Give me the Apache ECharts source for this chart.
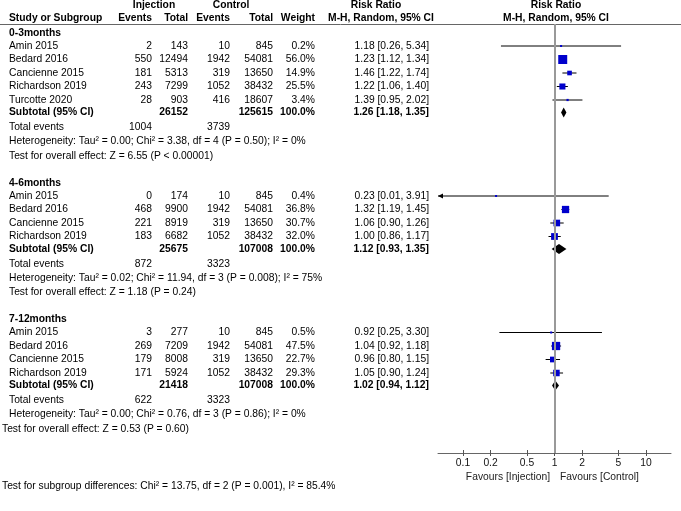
<!DOCTYPE html>
<html>
<head>
<meta charset="utf-8">
<title>Forest plot</title>
<script src="https://cdn.jsdelivr.net/npm/echarts@6/dist/echarts.min.js"></script>
<style>
  html, body { margin: 0; padding: 0; background: #fff; }
  #chart { width: 681px; height: 511px; }
</style>
</head>
<body>
<div id="chart"></div>
<script>
// data
const groupNames = ['0-3months', '4-6months', '7-12months']
const studyNames = [
  ['Amin 2015', 'Bedard 2016', 'Cancienne 2015', 'Richardson 2019', 'Turcotte 2020'],
  ['Amin 2015', 'Bedard 2016', 'Cancienne 2015', 'Richardson 2019'],
  ['Amin 2015', 'Bedard 2016', 'Cancienne 2015', 'Richardson 2019']
]
const injEvents = [[2, 550, 181, 243, 28], [0, 468, 221, 183], [3, 269, 179, 171]]
const injTotal = [[143, 12494, 5313, 7299, 903], [174, 9900, 8919, 6682], [277, 7209, 8008, 5924]]
const ctlEvents = [[10, 1942, 319, 1052, 416], [10, 1942, 319, 1052], [10, 1942, 319, 1052]]
const ctlTotal = [[845, 54081, 13650, 38432, 18607], [845, 54081, 13650, 38432], [845, 54081, 13650, 38432]]
const weights = [[0.2, 56.0, 14.9, 25.5, 3.4], [0.4, 36.8, 30.7, 32.0], [0.5, 47.5, 22.7, 29.3]]
const rr = [[1.18, 1.23, 1.46, 1.22, 1.39], [0.23, 1.32, 1.06, 1.00], [0.92, 1.04, 0.96, 1.05]]
const rrLow = [[0.26, 1.12, 1.22, 1.06, 0.95], [0.01, 1.19, 0.90, 0.86], [0.25, 0.92, 0.80, 0.90]]
const rrHigh = [[5.34, 1.34, 1.74, 1.40, 2.02], [3.91, 1.45, 1.26, 1.17], [3.30, 1.18, 1.15, 1.24]]
const subInjTotal = [26152, 25675, 21418]
const subCtlTotal = [125615, 107008, 107008]
const subRR = [1.26, 1.12, 1.02]
const subLow = [1.18, 0.93, 0.94]
const subHigh = [1.35, 1.35, 1.12]
const totalInjEvents = [1004, 872, 622]
const totalCtlEvents = [3739, 3323, 3323]
const heterogeneity = [
  'Heterogeneity: Tau² = 0.00; Chi² = 3.38, df = 4 (P = 0.50); I² = 0%',
  'Heterogeneity: Tau² = 0.02; Chi² = 11.94, df = 3 (P = 0.008); I² = 75%',
  'Heterogeneity: Tau² = 0.00; Chi² = 0.76, df = 3 (P = 0.86); I² = 0%'
]
const effectTests = [
  'Test for overall effect: Z = 6.55 (P < 0.00001)',
  'Test for overall effect: Z = 1.18 (P = 0.24)',
  null
]
const overallTest = 'Test for overall effect: Z = 0.53 (P = 0.60)'
const subgroupTest = 'Test for subgroup differences: Chi² = 13.75, df = 2 (P = 0.001), I² = 85.4%'
const tickValues = [0.1, 0.2, 0.5, 1, 2, 5, 10]

// layout
const FONT = '"Liberation Sans", Arial, sans-serif'
const FONT_SIZE = 10.3
const COL = { name: 9, injE: 152, injT: 188, ctlE: 230, ctlT: 273, weight: 315, ci: 429 }
const HEADER_LINE = 24
const AXIS_Y = 453
const LOG_MIN = -1.273
const LOG_MAX = 1.273

const fmtCI = (m, lo, hi) => `${m.toFixed(2)} [${lo.toFixed(2)}, ${hi.toFixed(2)}]`

const cells = []
const marks = []
const cell = (x, y, text, align, bold, color) => cells.push({ x, y, text: String(text), align: align || 'right', bold: !!bold, color })

// header
cell(154, 5, 'Injection', 'center', true)
cell(231, 5, 'Control', 'center', true)
cell(376, 5, 'Risk Ratio', 'center', true)
cell(556, 5, 'Risk Ratio', 'center', true)
cell(COL.name, 18, 'Study or Subgroup', 'left', true)
cell(COL.injE, 18, 'Events', 'right', true)
cell(COL.injT, 18, 'Total', 'right', true)
cell(COL.ctlE, 18, 'Events', 'right', true)
cell(COL.ctlT, 18, 'Total', 'right', true)
cell(COL.weight, 18, 'Weight', 'right', true)
cell(381, 18, 'M-H, Random, 95% CI', 'center', true)
cell(556, 18, 'M-H, Random, 95% CI', 'center', true)

let y = 33
groupNames.forEach((g, gi) => {
  cell(COL.name, y, g, 'left', true)
  y += 13
  studyNames[gi].forEach((name, i) => {
    cell(COL.name, y, name, 'left')
    cell(COL.injE, y, injEvents[gi][i])
    cell(COL.injT, y, injTotal[gi][i])
    cell(COL.ctlE, y, ctlEvents[gi][i])
    cell(COL.ctlT, y, ctlTotal[gi][i])
    cell(COL.weight, y, weights[gi][i].toFixed(1) + '%')
    cell(COL.ci, y, fmtCI(rr[gi][i], rrLow[gi][i], rrHigh[gi][i]))
    marks.push([Math.log10(rr[gi][i]), Math.log10(rrLow[gi][i]), Math.log10(rrHigh[gi][i]), y, weights[gi][i], 0])
    y += 13.5
  })
  y -= 1
  cell(COL.name, y, 'Subtotal (95% CI)', 'left', true)
  cell(COL.injT, y, subInjTotal[gi], 'right', true)
  cell(COL.ctlT, y, subCtlTotal[gi], 'right', true)
  cell(COL.weight, y, '100.0%', 'right', true)
  cell(COL.ci, y, fmtCI(subRR[gi], subLow[gi], subHigh[gi]), 'right', true)
  marks.push([Math.log10(subRR[gi]), Math.log10(subLow[gi]), Math.log10(subHigh[gi]), y, 100, 1])
  y += 15
  cell(COL.name, y, 'Total events', 'left')
  cell(COL.injE, y, totalInjEvents[gi])
  cell(COL.ctlE, y, totalCtlEvents[gi])
  y += 14
  cell(COL.name, y, heterogeneity[gi], 'left')
  if (effectTests[gi]) {
    y += 14.5
    cell(COL.name, y, effectTests[gi], 'left')
    y += 27
  }
})
cell(2, y + 15, overallTest, 'left')
cell(2, 486, subgroupTest, 'left')
cell(550, 477, 'Favours [Injection]', 'right', false, '#222')
cell(560, 477, 'Favours [Control]', 'left', false, '#222')

function renderCell(params, api) {
  const c = cells[params.dataIndex]
  const p = api.coord([c.x, c.y])
  return {
    type: 'text',
    x: p[0],
    y: p[1],
    style: {
      text: c.text,
      textAlign: c.align,
      textVerticalAlign: 'middle',
      font: (c.bold ? 'bold ' : '') + FONT_SIZE + 'px ' + FONT,
      fill: c.color || '#000'
    }
  }
}

function renderMark(params, api) {
  const cs = params.coordSys
  const yv = api.value(3)
  const mid = api.coord([api.value(0), yv])
  const lo = api.coord([api.value(1), yv])
  const hi = api.coord([api.value(2), yv])
  const cy = mid[1]
  if (api.value(5) === 1) {
    return {
      type: 'polygon',
      shape: { points: [[lo[0], cy], [mid[0], cy - 5], [hi[0], cy], [mid[0], cy + 5]] },
      style: { fill: '#000' }
    }
  }
  const x0 = Math.max(lo[0], cs.x)
  const x1 = Math.min(hi[0], cs.x + cs.width)
  const children = [{
    type: 'line',
    shape: { x1: x0, y1: cy, x2: x1, y2: cy },
    style: { stroke: '#000', lineWidth: 1 }
  }]
  if (lo[0] < cs.x) {
    children.push({
      type: 'polygon',
      shape: { points: [[cs.x, cy], [cs.x + 5, cy - 2.5], [cs.x + 5, cy + 2.5]] },
      style: { fill: '#000' }
    })
  }
  const s = Math.max(2, 1.2 * Math.sqrt(api.value(4)))
  children.push({
    type: 'rect',
    shape: { x: mid[0] - s / 2, y: cy - s / 2, width: s, height: s },
    style: { fill: '#0000cc' }
  })
  return { type: 'group', children }
}

const tickLogs = tickValues.map(v => Math.log10(v))
const tickLabel = v => {
  const t = tickValues.find(t => Math.abs(Math.log10(t) - v) < 1e-6)
  return t === undefined ? '' : String(t)
}

const chart = echarts.init(document.getElementById('chart'), null, { renderer: 'canvas' })
chart.setOption({
  animation: false,
  backgroundColor: '#fff',
  grid: [
    { left: 0, right: 0, top: 0, bottom: 0 },
    { left: 438, right: 10, top: HEADER_LINE, bottom: 511 - AXIS_Y }
  ],
  xAxis: [
    { type: 'value', gridIndex: 0, min: 0, max: 681, show: false },
    {
      type: 'value',
      gridIndex: 1,
      min: LOG_MIN,
      max: LOG_MAX,
      position: 'bottom',
      axisLine: { lineStyle: { color: '#666', width: 1 } },
      axisTick: { customValues: tickLogs, length: 3, lineStyle: { color: '#555' } },
      axisLabel: { customValues: tickLogs, formatter: tickLabel, margin: 5, fontSize: FONT_SIZE, color: '#111', fontFamily: FONT },
      splitLine: { show: false }
    },
    {
      type: 'value',
      gridIndex: 1,
      min: LOG_MIN,
      max: LOG_MAX,
      position: 'bottom',
      axisLine: { show: false },
      axisTick: { customValues: tickLogs, inside: true, length: 3, lineStyle: { color: '#555' } },
      axisLabel: { show: false },
      splitLine: { show: false }
    }
  ],
  yAxis: [
    { type: 'value', gridIndex: 0, min: 0, max: 511, inverse: true, show: false },
    { type: 'value', gridIndex: 1, min: HEADER_LINE, max: AXIS_Y, inverse: true, show: false }
  ],
  series: [
    {
      type: 'custom',
      xAxisIndex: 0,
      yAxisIndex: 0,
      renderItem: renderCell,
      data: cells.map(c => [c.x, c.y]),
      silent: true,
      z: 5,
      markLine: {
        silent: true,
        symbol: 'none',
        label: { show: false },
        lineStyle: { color: '#666', width: 1, type: 'solid' },
        data: [[{ coord: [0, HEADER_LINE] }, { coord: [681, HEADER_LINE] }]]
      }
    },
    {
      // line of no effect, drawn under the marks
      type: 'line',
      xAxisIndex: 1,
      yAxisIndex: 1,
      data: [],
      silent: true,
      z: 1,
      markLine: {
        silent: true,
        symbol: 'none',
        label: { show: false },
        lineStyle: { color: '#999', width: 2, type: 'solid' },
        data: [{ xAxis: 0 }]
      }
    },
    {
      type: 'custom',
      xAxisIndex: 1,
      yAxisIndex: 1,
      renderItem: renderMark,
      data: marks,
      silent: true,
      clip: false,
      z: 4
    }
  ]
})
</script>
</body>
</html>
